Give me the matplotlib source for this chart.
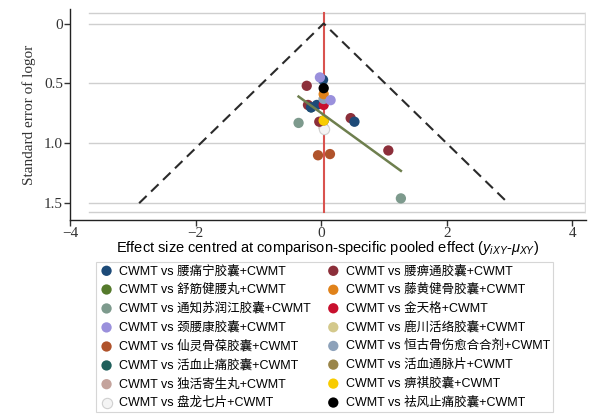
import matplotlib
matplotlib.use("Agg")
import matplotlib.pyplot as plt
import numpy as np

plt.rcParams['mathtext.fontset'] = 'custom'
plt.rcParams['mathtext.it'] = 'Liberation Sans:italic'
plt.rcParams['mathtext.rm'] = 'Liberation Sans'

# ---- data ----
labels = [
    "CWMT vs 腰痛宁胶囊+CWMT",
    "CWMT vs 舒筋健腰丸+CWMT",
    "CWMT vs 通知苏润江胶囊+CWMT",
    "CWMT vs 颈腰康胶囊+CWMT",
    "CWMT vs 仙灵骨葆胶囊+CWMT",
    "CWMT vs 活血止痛胶囊+CWMT",
    "CWMT vs 独活寄生丸+CWMT",
    "CWMT vs 盘龙七片+CWMT",
    "CWMT vs 腰痹通胶囊+CWMT",
    "CWMT vs 藤黄健骨胶囊+CWMT",
    "CWMT vs 金天格+CWMT",
    "CWMT vs 鹿川活络胶囊+CWMT",
    "CWMT vs 恒古骨伤愈合合剂+CWMT",
    "CWMT vs 活血通脉片+CWMT",
    "CWMT vs 痹祺胶囊+CWMT",
    "CWMT vs 祛风止痛胶囊+CWMT",
]
colors = ["#1d4a78", "#557a2c", "#7d9a8d", "#9a90dc", "#b0532b", "#1f5f5b",
          "#c4a39c", "#f4f4f4", "#8c2f3a", "#e0821a", "#c8102e", "#d4c98c",
          "#8da2ba", "#9a8549", "#f8cc00", "#000000"]
edgecolors = [None]*7 + ["#d0d0d0"] + [None]*8

x_vals = [
    [0.03, -0.07, -0.16, 0.53],
    [0.04],
    [-0.36, 1.27],
    [-0.02, 0.15],
    [-0.05, 0.14],
    [-0.16],
    [0.04],
    [0.04],
    [-0.23, -0.21, -0.03, 0.47, 1.07],
    [0.04],
    [0.04],
    [0.04],
    [0.04],
    [0.04],
    [0.04],
    [0.04],
]
y_vals = [
    [0.47, 0.68, 0.70, 0.82],
    [0.81],
    [0.83, 1.46],
    [0.45, 0.64],
    [1.10, 1.09],
    [0.70],
    [0.87],
    [0.88],
    [0.52, 0.68, 0.82, 0.79, 1.06],
    [0.59],
    [0.68],
    [0.63],
    [0.63],
    [0.81],
    [0.81],
    [0.54],
]
draw_order = [1, 5, 6, 7, 11, 13, 8, 0, 2, 4, 10, 12, 9, 15, 14, 3]

center = 0.04
se_max = 1.5
reg_x = [-0.36, 1.27]
reg_y = [0.61, 1.23]
grid_y = [-0.09, 0.0, 0.5, 1.0, 1.5, 1.57]

fig = plt.figure(figsize=(5.89, 4.15), dpi=100)
ax = fig.add_axes([0.119, 0.47, 0.876, 0.508])

for gy in grid_y:
    ax.plot([-3.7, 4.2], [gy, gy], color="#cfcfcf", lw=1, zorder=0)
ax.plot([4.2, 4.2], [grid_y[0], grid_y[-1]], color="#dddddd", lw=1, zorder=0)

ax.plot([center - 1.96*se_max, center, center + 1.96*se_max], [se_max, 0, se_max],
        ls=(0, (5, 3)), color="#2a2a2a", lw=1.5, zorder=2)
ax.plot([center, center], [grid_y[0], grid_y[-1]], color="#d9534f", lw=1.5, zorder=1)

handles = [None]*len(labels)
for i in draw_order:
    h = ax.scatter(x_vals[i], y_vals[i], s=55, c=colors[i],
                   edgecolors=edgecolors[i] if edgecolors[i] else 'none',
                   linewidths=0.8, zorder=3, label=labels[i])
    handles[i] = h

ax.plot(reg_x, reg_y, color="#6e7f4e", lw=1.8, zorder=4)

ax.set_xlim(-4, 4.22)
ax.set_ylim(1.64, -0.12)
ax.set_xticks([-4, -2, 0, 2, 4])
ax.set_xticklabels(["\u22124", "\u22122", "0", "2", "4"])
ax.set_yticks([0, 0.5, 1.0, 1.5])
ax.set_yticklabels(["0", "0.5", "1.0", "1.5"])
for lab in ax.get_xticklabels() + ax.get_yticklabels():
    lab.set_fontfamily("Liberation Serif")
    lab.set_fontsize(11)
    lab.set_color("#333333")
ax.tick_params(direction="out", length=4, width=1, colors="#333333", pad=1)
ax.spines["top"].set_visible(False)
ax.spines["right"].set_visible(False)
for s in ["left", "bottom"]:
    ax.spines[s].set_linewidth(1)
    ax.spines[s].set_color("#222222")

ax.set_ylabel("Standard error of logor", family="Liberation Serif", fontsize=11,
              color="#333333", labelpad=6)
ax.set_xlabel(r"Effect size centred at comparison-specific pooled effect ($y_{iXY}$-$\mu_{XY}$)",
              family="Liberation Sans", fontsize=10.5, color="#000000", labelpad=-1)

leg = fig.legend(handles=handles, labels=labels, ncol=2, loc="upper center",
                 bbox_to_anchor=(0.551, 0.369),
                 prop={"family": ["Liberation Sans", "Noto Sans CJK SC"], "size": 9.0},
                 frameon=True, fancybox=False, edgecolor="#cccccc",
                 handletextpad=0.4, columnspacing=1.2, labelspacing=0.52,
                 handlelength=1.2, markerscale=1.0, borderpad=0.22, borderaxespad=0)
leg.get_frame().set_linewidth(0.8)

fig.savefig("out.png", dpi=100)
